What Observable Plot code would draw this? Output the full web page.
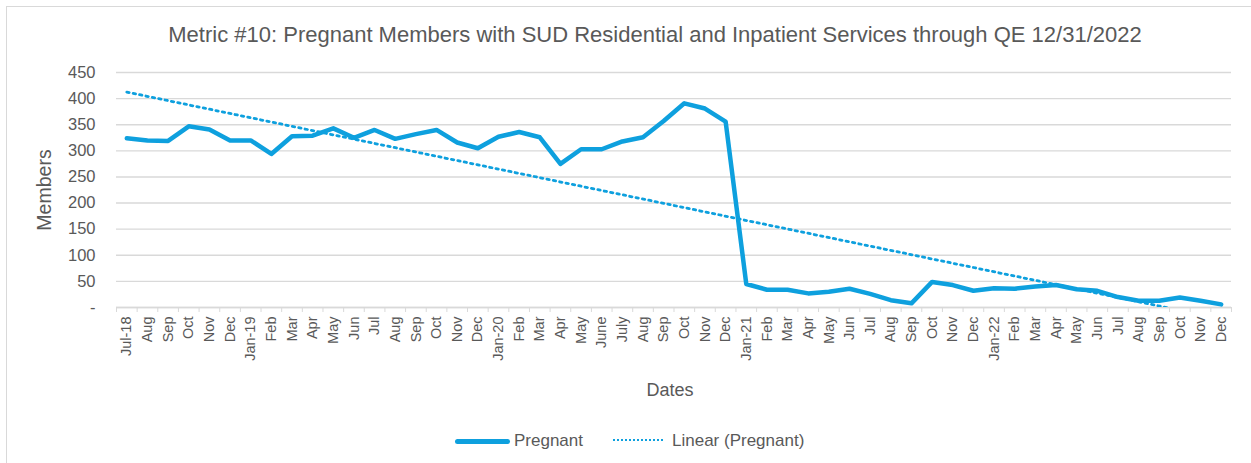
<!DOCTYPE html>
<html>
<head>
<meta charset="utf-8">
<script src="https://cdn.jsdelivr.net/npm/d3@7"></script>
<script src="https://cdn.jsdelivr.net/npm/@observablehq/plot@0.6"></script>
<style>
  html, body { margin: 0; padding: 0; background: #fff; }
  body { width: 1251px; height: 463px; overflow: hidden; position: relative; font-family: "Liberation Sans", Arial, sans-serif; color: #595959; }
  #frame { position: absolute; left: 6px; top: 6px; width: 1300px; height: 500px; border: 1.5px solid #d9d9d9; box-sizing: border-box; }
  #title { position: absolute; left: 0; width: 1310px; top: 22px; text-align: center; font-size: 22px; line-height: 26px; white-space: nowrap; }
  #chart { position: absolute; left: 0; top: 0; }
  #legend { position: absolute; left: 0; top: 429px; height: 24px; font-size: 17px; }
  .lg { position: absolute; top: 0; line-height: 24px; white-space: nowrap; }
  .sw { position: absolute; }
</style>
</head>
<body>
<div id="frame"></div>
<div id="title">Metric #10: Pregnant Members with SUD Residential and Inpatient Services through QE 12/31/2022</div>
<div id="chart"></div>
<div id="legend">
  <div class="sw" style="left:455px; top:10px; width:55px; height:4.5px; border-radius:3px; background:#0ea0de;"></div>
  <div class="lg" style="left:514px;">Pregnant</div>
  <div class="sw" style="left:613px; top:10px; width:50px; height:0; border-top:2.6px dotted #0ea0de;"></div>
  <div class="lg" style="left:672px;">Linear (Pregnant)</div>
</div>
<script>
const monthLabels = ["Jul-18","Aug","Sep","Oct","Nov","Dec",
  "Jan-19","Feb","Mar","Apr","May","Jun","Jul","Aug","Sep","Oct","Nov","Dec",
  "Jan-20","Feb","Mar","Apr","May","June","July","Aug","Sep","Oct","Nov","Dec",
  "Jan-21","Feb","Mar","Apr","May","Jun","Jul","Aug","Sep","Oct","Nov","Dec",
  "Jan-22","Feb","Mar","Apr","May","Jun","Jul","Aug","Sep","Oct","Nov","Dec"];
const pregnantValues = [324,320,319,347,341,320,
  320,294,328,329,343,325,340,323,332,340,316,305,
  327,336,326,275,303,303,318,326,357,391,381,356,
  45,34,34,27,30,36,26,14,8,49,43,32,
  37,36,40,43,35,32,20,13,13,19,13,6];
const yTicks = [0,50,100,150,200,250,300,350,400,450];
const seriesName = "Pregnant";
const trendName = "Linear (Pregnant)";

const lineColor = "#0ea0de";
const textColor = "#595959";
const gridColor = "#d9d9d9";

const data = pregnantValues.map((v, i) => ({i, v}));

// least-squares linear trend (as Excel's "Linear" trendline)
const n = data.length;
const mx = d3.mean(data, d => d.i), my = d3.mean(data, d => d.v);
const slope = d3.sum(data, d => (d.i - mx) * (d.v - my)) / d3.sum(data, d => (d.i - mx) ** 2);
const intercept = my - slope * mx;
const trend = [0, n - 1].map(i => ({i, v: intercept + slope * i}));

const boundaries = d3.range(n + 1).map(i => i - 0.5);

const chart = Plot.plot({
  width: 1251,
  height: 463,
  marginTop: 72,
  marginBottom: 156,
  marginLeft: 116,
  marginRight: 20,
  style: {fontFamily: '"Liberation Sans", Arial, sans-serif', color: textColor, background: "transparent", overflow: "visible"},
  x: {type: "linear", domain: [-0.5, n - 0.5]},
  y: {domain: [0, 450]},
  marks: [
    Plot.gridY(yTicks, {stroke: gridColor, strokeOpacity: 1, strokeWidth: 1.4}),
    Plot.axisY(yTicks, {tickSize: 0, tickPadding: 21, fontSize: 16.5, tickFormat: d => d === 0 ? "-" : String(d), label: null, color: textColor}),
    Plot.ruleY([0], {stroke: gridColor, strokeWidth: 1.4}),
    Plot.axisX(boundaries, {tickSize: 5, stroke: gridColor, strokeOpacity: 1, tickFormat: () => "", label: null}),
    Plot.axisX(d3.range(n), {tickSize: 0, tickPadding: 9, tickRotate: -90, fontSize: 14.5, tickFormat: i => monthLabels[i], label: null, color: textColor}),
    Plot.text(["Members"], {frameAnchor: "left", textAnchor: "middle", lineAnchor: "middle", dx: -72, rotate: -90, fontSize: 19.5, fill: textColor}),
    Plot.text(["Dates"], {frameAnchor: "bottom", lineAnchor: "middle", dy: 83, dx: -4, fontSize: 18, fill: textColor}),
    Plot.line(trend, {x: "i", y: "v", stroke: lineColor, strokeWidth: 2.8, strokeDasharray: "2.4,4.1", clip: true}),
    Plot.line(data, {x: "i", y: "v", stroke: lineColor, strokeWidth: 4.5, strokeLinejoin: "round", strokeLinecap: "round"})
  ]
});
document.getElementById("chart").appendChild(chart);
</script>
</body>
</html>
